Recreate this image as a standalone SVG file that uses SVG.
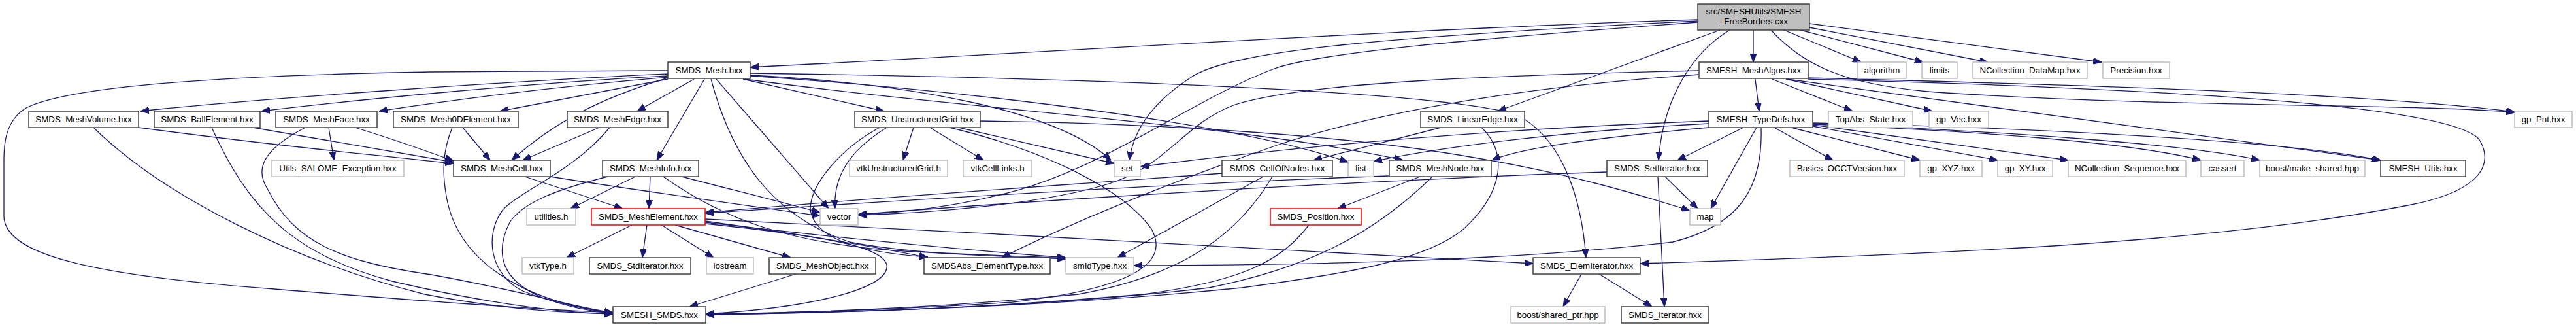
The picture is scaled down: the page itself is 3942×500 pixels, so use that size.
<svg xmlns="http://www.w3.org/2000/svg" width="3942" height="500" viewBox="0 0 3942 500">
<defs>
<marker id="a" viewBox="0 0 13 10" refX="13" refY="5" markerWidth="13" markerHeight="10" markerUnits="userSpaceOnUse" orient="auto">
<path d="M0,0 L13,5 L0,10 z" fill="#191970" stroke="#191970" stroke-width="1"/>
</marker>
<style>
.n rect{fill:#fff;stroke:#404040;stroke-width:1.5}
.g rect{fill:#fff;stroke:#bfbfbf;stroke-width:1.5}
.r rect{fill:#fff;stroke:#ff0000;stroke-width:1.5}
.root rect{fill:#bfbfbf;stroke:#404040;stroke-width:1.5}
text{font-family:"Liberation Sans",Arial,sans-serif;font-size:13.33px;text-anchor:middle;fill:#000}
.e path{fill:none;stroke:#191970;stroke-width:1.3;marker-end:url(#a)}
</style>
</defs>
<rect width="3942" height="500" fill="#fff"/>
<g id="edges" class="e">
<path d="M2598,30 C2200,42 1600,80 1148,103"/>
<path d="M2598,32 C2150,55 1880,75 1820,120 C1760,160 1735,200 1728,245"/>
<path d="M2598,34 C2250,60 2020,80 1950,105 C1830,150 1700,250 1560,290 C1470,315 1380,326 1313,328"/>
<path d="M2683,46 L2683,95"/>
<path d="M2632,46 L2292,170"/>
<path d="M2647,46 C2590,80 2545,150 2538,245"/>
<path d="M2730,46 L2848,95"/>
<path d="M2755,46 L2943,95"/>
<path d="M2769,42 L3042,95"/>
<path d="M2769,36 L3216,95"/>
<path d="M2710,46 C2760,100 2820,128 2950,140 C3300,165 3700,158 3848,172"/>
<path d="M2686,121 L2692,170"/>
<path d="M2712,121 L2835,170"/>
<path d="M2733,121 L2957,170"/>
<path d="M2767,119 C3100,128 3600,140 3848,171"/>
<path d="M2735,121 L3643,245"/>
<path d="M2767,121 C3300,135 3760,160 3795,215 C3820,260 3780,295 3690,313 C3400,370 3000,388 2510,403"/>
<path d="M2600,114 C2300,135 2100,175 1960,220 C1800,275 1640,340 1533,394"/>
<path d="M2600,108 C2300,115 2000,125 1890,160 C1810,190 1790,250 1700,280 C1600,312 1420,326 1313,329"/>
<path d="M2668,195 L2567,245"/>
<path d="M2688,195 L2618,319"/>
<path d="M2695,195 C2698,290 2660,345 2560,370 C2300,400 2000,405 1735,406"/>
<path d="M2715,195 L2805,245"/>
<path d="M2741,195 L2938,245"/>
<path d="M2774,193 L3057,245"/>
<path d="M2774,191 L3165,245"/>
<path d="M2774,190 C3000,200 3250,215 3368,245"/>
<path d="M2774,189 C3050,200 3350,220 3458,245"/>
<path d="M2774,188 C3100,195 3500,215 3643,245"/>
<path d="M2615,185 C2350,195 2050,215 1745,255"/>
<path d="M2615,189 C2400,200 2200,225 2102,247"/>
<path d="M2615,195 C2450,210 2330,225 2283,245"/>
<path d="M2205,195 L2010,245"/>
<path d="M2267,195 C2305,230 2305,290 2240,350 C2180,400 2050,420 1900,440 C1600,470 1300,478 1080,480"/>
<path d="M1870,265 C1600,285 1300,305 1079,325"/>
<path d="M1933,270 L1710,394"/>
<path d="M1947,270 C1900,350 1820,420 1650,450 C1450,470 1250,478 1080,480"/>
<path d="M2173,270 L2047,319"/>
<path d="M2192,270 C2100,360 2000,410 1850,440 C1600,470 1300,478 1080,481"/>
<path d="M2126,269 C1800,280 1400,305 1079,326"/>
<path d="M2003,344 C1960,400 1900,430 1750,450 C1500,472 1300,478 1080,481"/>
<path d="M2548,270 L2598,319"/>
<path d="M2537,270 L2547,469"/>
<path d="M2459,263 C2100,275 1600,305 1313,328"/>
<path d="M2420,419 L2392,469"/>
<path d="M2447,419 L2528,469"/>
<path d="M1022,113 C800,123 400,150 215,170"/>
<path d="M1022,116 C800,128 550,152 400,170"/>
<path d="M1022,118 C850,132 700,152 580,170"/>
<path d="M1022,121 L765,170"/>
<path d="M1062,121 L975,170"/>
<path d="M1022,119 C920,150 850,185 783,245"/>
<path d="M1078,121 L1005,245"/>
<path d="M1096,121 L1268,319"/>
<path d="M1088,121 C1120,240 1180,330 1300,370 C1400,390 1550,392 1631,396"/>
<path d="M1137,121 L1353,170"/>
<path d="M1148,112 C1700,120 2200,140 2320,175 C2390,210 2420,300 2427,394"/>
<path d="M1148,115 C1400,128 1620,170 1700,245"/>
<path d="M1148,116 C1500,140 1900,190 2063,248"/>
<path d="M1140,121 C1500,170 1900,190 2147,245"/>
<path d="M1022,108 L660,110 C300,116 100,135 40,165 C8,185 6,220 6,245 L6,330 C6,385 120,420 420,442 C620,458 800,472 938,478"/>
<path d="M212,195 C400,220 550,235 694,250"/>
<path d="M143,195 C250,300 450,400 650,450 C780,475 870,478 938,480"/>
<path d="M387,195 C500,215 600,232 694,248"/>
<path d="M324,195 C380,320 450,390 600,430 C750,465 860,478 938,480"/>
<path d="M543,195 C600,212 650,230 694,246"/>
<path d="M503,195 L511,245"/>
<path d="M467,195 C400,230 390,260 410,290 C450,370 520,400 660,420 C800,445 880,470 938,478"/>
<path d="M708,195 L750,245"/>
<path d="M692,195 C678,230 676,260 683,300 C700,400 800,460 938,479"/>
<path d="M917,195 L800,245"/>
<path d="M933,195 C880,260 800,290 770,320 C740,360 750,420 800,445 C850,465 900,473 938,478"/>
<path d="M803,270 L953,319"/>
<path d="M842,270 C1000,295 1150,315 1255,330"/>
<path d="M972,270 L873,319"/>
<path d="M995,270 L993,319"/>
<path d="M930,270 C850,290 800,310 780,340 C755,390 770,430 830,455 C870,470 900,475 938,479"/>
<path d="M1043,270 C1120,290 1200,310 1255,325"/>
<path d="M1015,270 C1100,330 1200,375 1400,385 C1500,390 1580,392 1631,395"/>
<path d="M967,344 L867,394"/>
<path d="M990,344 L983,394"/>
<path d="M1012,344 L1092,394"/>
<path d="M1033,344 L1210,394"/>
<path d="M1079,338 C1200,355 1330,375 1420,394"/>
<path d="M1079,340 C1250,360 1450,380 1631,394"/>
<path d="M1079,335 C1500,355 2000,385 2346,403"/>
<path d="M1079,342 C1250,360 1350,375 1357,405 C1362,440 1250,470 1080,480"/>
<path d="M1398,195 L1382,245"/>
<path d="M1423,195 L1505,245"/>
<path d="M1467,195 L1705,250"/>
<path d="M1357,195 C1300,230 1275,270 1278,319"/>
<path d="M1346,195 C1290,225 1240,280 1240,320 C1245,360 1300,385 1420,393"/>
<path d="M1453,195 C1600,230 1720,290 1762,350 C1790,400 1740,440 1550,462 C1350,475 1200,478 1080,480"/>
<path d="M1500,185 C1750,188 2050,205 2250,240 C2400,265 2500,295 2586,322"/>
<path d="M1218,419 L1055,469"/>
</g>
<g id="root" class="root"><rect x="2598" y="6" width="171" height="40"/><text x="2683.5" y="22">src/SMESHUtils/SMESH</text><text x="2683.5" y="37">_FreeBorders.cxx</text></g>
<g id="smds_mesh" class="n"><rect x="1022" y="95" width="126" height="25"/><text x="1085" y="112">SMDS_Mesh.hxx</text></g>
<g id="smesh_meshalgos" class="n"><rect x="2600" y="95" width="167" height="25"/><text x="2683.5" y="112">SMESH_MeshAlgos.hxx</text></g>
<g id="algorithm" class="g"><rect x="2843" y="95" width="74" height="25"/><text x="2880" y="112">algorithm</text></g>
<g id="limits" class="g"><rect x="2941" y="95" width="54" height="25"/><text x="2968" y="112">limits</text></g>
<g id="ncollection_datamap" class="g"><rect x="3019" y="95" width="175" height="25"/><text x="3106.5" y="112">NCollection_DataMap.hxx</text></g>
<g id="precision" class="g"><rect x="3218" y="95" width="102" height="25"/><text x="3269" y="112">Precision.hxx</text></g>
<g id="smds_meshvolume" class="n"><rect x="44" y="170" width="168" height="25"/><text x="128" y="187">SMDS_MeshVolume.hxx</text></g>
<g id="smds_ballelement" class="n"><rect x="236" y="170" width="162" height="25"/><text x="317" y="187">SMDS_BallElement.hxx</text></g>
<g id="smds_meshface" class="n"><rect x="422" y="170" width="155" height="25"/><text x="499.5" y="187">SMDS_MeshFace.hxx</text></g>
<g id="smds_mesh0delement" class="n"><rect x="602" y="170" width="191" height="25"/><text x="697.5" y="187">SMDS_Mesh0DElement.hxx</text></g>
<g id="smds_meshedge" class="n"><rect x="868" y="170" width="154" height="25"/><text x="945" y="187">SMDS_MeshEdge.hxx</text></g>
<g id="smds_unstructuredgrid" class="n"><rect x="1308" y="170" width="192" height="25"/><text x="1404" y="187">SMDS_UnstructuredGrid.hxx</text></g>
<g id="smds_linearedge" class="n"><rect x="2174" y="170" width="159" height="25"/><text x="2253.5" y="187">SMDS_LinearEdge.hxx</text></g>
<g id="smesh_typedefs" class="n"><rect x="2615" y="170" width="159" height="25"/><text x="2694.5" y="187">SMESH_TypeDefs.hxx</text></g>
<g id="topabs_state" class="g"><rect x="2798" y="170" width="129" height="25"/><text x="2862.5" y="187">TopAbs_State.hxx</text></g>
<g id="gp_vec" class="g"><rect x="2952" y="170" width="91" height="25"/><text x="2997.5" y="187">gp_Vec.hxx</text></g>
<g id="gp_pnt" class="g"><rect x="3848" y="170" width="88" height="25"/><text x="3892" y="187">gp_Pnt.hxx</text></g>
<g id="utils_salome_exception" class="g"><rect x="416" y="245" width="202" height="25"/><text x="517" y="262">Utils_SALOME_Exception.hxx</text></g>
<g id="smds_meshcell" class="n"><rect x="694" y="245" width="148" height="25"/><text x="768" y="262">SMDS_MeshCell.hxx</text></g>
<g id="smds_meshinfo" class="n"><rect x="922" y="245" width="147" height="25"/><text x="995.5" y="262">SMDS_MeshInfo.hxx</text></g>
<g id="vtkunstructuredgrid" class="g"><rect x="1300" y="245" width="150" height="25"/><text x="1375" y="262">vtkUnstructuredGrid.h</text></g>
<g id="vtkcelllinks" class="g"><rect x="1474" y="245" width="105" height="25"/><text x="1526.5" y="262">vtkCellLinks.h</text></g>
<g id="set" class="g"><rect x="1705" y="245" width="40" height="25"/><text x="1725" y="262">set</text></g>
<g id="smds_cellofnodes" class="n"><rect x="1870" y="245" width="169" height="25"/><text x="1954.5" y="262">SMDS_CellOfNodes.hxx</text></g>
<g id="list" class="g"><rect x="2063" y="245" width="39" height="25"/><text x="2082.5" y="262">list</text></g>
<g id="smds_meshnode" class="n"><rect x="2126" y="245" width="156" height="25"/><text x="2204" y="262">SMDS_MeshNode.hxx</text></g>
<g id="smds_setiterator" class="n"><rect x="2459" y="245" width="154" height="25"/><text x="2536" y="262">SMDS_SetIterator.hxx</text></g>
<g id="basics_occtversion" class="g"><rect x="2739" y="245" width="175" height="25"/><text x="2826.5" y="262">Basics_OCCTVersion.hxx</text></g>
<g id="gp_xyz" class="g"><rect x="2938" y="245" width="95" height="25"/><text x="2985.5" y="262">gp_XYZ.hxx</text></g>
<g id="gp_xy" class="g"><rect x="3057" y="245" width="84" height="25"/><text x="3099" y="262">gp_XY.hxx</text></g>
<g id="ncollection_sequence" class="g"><rect x="3165" y="245" width="180" height="25"/><text x="3255" y="262">NCollection_Sequence.hxx</text></g>
<g id="cassert" class="g"><rect x="3368" y="245" width="66" height="25"/><text x="3401" y="262">cassert</text></g>
<g id="boost_make_shared" class="g"><rect x="3458" y="245" width="161" height="25"/><text x="3538.5" y="262">boost/make_shared.hpp</text></g>
<g id="smesh_utils" class="n"><rect x="3643" y="245" width="130" height="25"/><text x="3708" y="262">SMESH_Utils.hxx</text></g>
<g id="utilities" class="g"><rect x="806" y="319" width="75" height="25"/><text x="843.5" y="336">utilities.h</text></g>
<g id="smds_meshelement" class="r"><rect x="905" y="319" width="174" height="25"/><text x="992" y="336">SMDS_MeshElement.hxx</text></g>
<g id="vector" class="g"><rect x="1255" y="319" width="58" height="25"/><text x="1284" y="336">vector</text></g>
<g id="smds_position" class="r"><rect x="1944" y="319" width="139" height="25"/><text x="2013.5" y="336">SMDS_Position.hxx</text></g>
<g id="map" class="g"><rect x="2586" y="319" width="47" height="25"/><text x="2609.5" y="336">map</text></g>
<g id="vtktype" class="g"><rect x="799" y="394" width="79" height="25"/><text x="838.5" y="411">vtkType.h</text></g>
<g id="smds_stditerator" class="n"><rect x="902" y="394" width="155" height="25"/><text x="979.5" y="411">SMDS_StdIterator.hxx</text></g>
<g id="iostream" class="g"><rect x="1081" y="394" width="72" height="25"/><text x="1117" y="411">iostream</text></g>
<g id="smds_meshobject" class="n"><rect x="1177" y="394" width="163" height="25"/><text x="1258.5" y="411">SMDS_MeshObject.hxx</text></g>
<g id="smdsabs_elementtype" class="n"><rect x="1414" y="394" width="193" height="25"/><text x="1510.5" y="411">SMDSAbs_ElementType.hxx</text></g>
<g id="smidtype" class="g"><rect x="1631" y="394" width="104" height="25"/><text x="1683" y="411">smIdType.hxx</text></g>
<g id="smds_elemiterator" class="n"><rect x="2346" y="394" width="164" height="25"/><text x="2428" y="411">SMDS_ElemIterator.hxx</text></g>
<g id="smesh_smds" class="n"><rect x="938" y="469" width="142" height="25"/><text x="1009" y="486">SMESH_SMDS.hxx</text></g>
<g id="boost_shared_ptr" class="g"><rect x="2312" y="469" width="144" height="25"/><text x="2384" y="486">boost/shared_ptr.hpp</text></g>
<g id="smds_iterator" class="n"><rect x="2481" y="469" width="134" height="25"/><text x="2548" y="486">SMDS_Iterator.hxx</text></g>
</svg>
